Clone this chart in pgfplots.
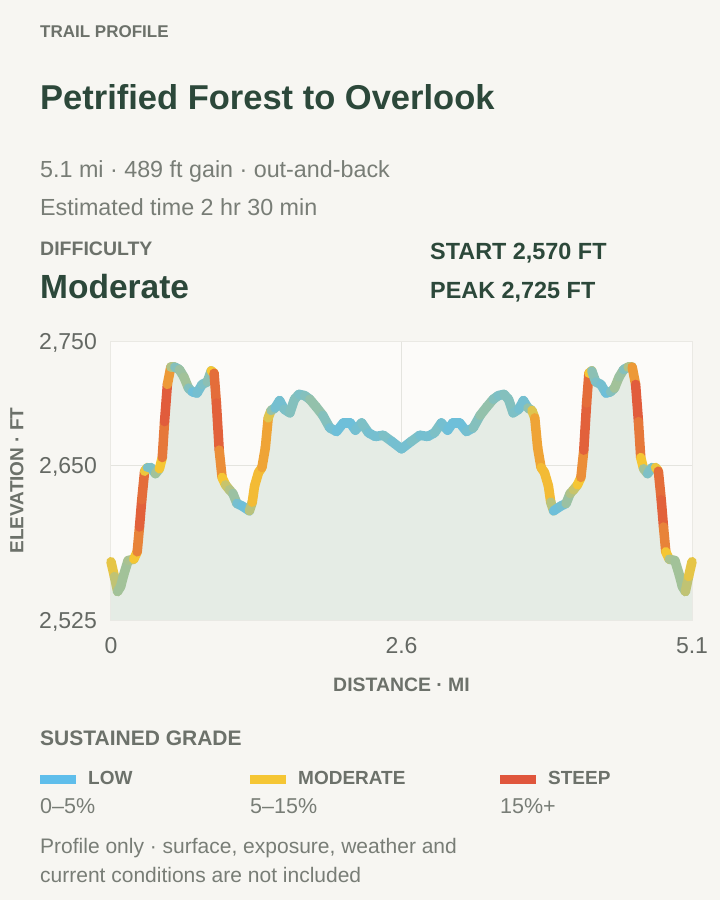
\documentclass[border=0pt]{standalone}
\usepackage{fontspec}
\setmainfont{Liberation Sans}
\usepackage{pgfplots}
\usepackage{pgfplotstable}
\pgfplotsset{compat=1.18}

\definecolor{pagebg}{RGB}{247,246,242}
\definecolor{plotbg}{RGB}{252,251,249}
\definecolor{framec}{RGB}{234,233,228}
\definecolor{gridc}{RGB}{228,228,223}
\definecolor{areac}{RGB}{229,236,229}
\definecolor{darkgreen}{RGB}{44,72,58}
\definecolor{headgray}{RGB}{108,113,106}
\definecolor{subgray}{RGB}{120,125,118}
\definecolor{tickgray}{RGB}{100,104,99}
\definecolor{lowc}{RGB}{95,190,235}
\definecolor{modc}{RGB}{245,198,52}
\definecolor{steepc}{RGB}{224,86,60}

% distance (mi), elevation (ft), sustained grade (%)
\pgfplotstableread{
x y g
0.000 2572 10
0.030 2560 8
0.058 2548 5
0.085 2552 4
0.110 2561 5
0.150 2573 4
0.200 2574 6
0.230 2580 14
0.250 2600 18
0.270 2622 20
0.295 2645 16
0.320 2648 3
0.350 2648 1
0.390 2643 3
0.425 2647 6
0.450 2656 14
0.470 2685 20
0.495 2715 19
0.525 2729 9
0.560 2729 2
0.600 2727 3
0.640 2721 5
0.680 2712 4
0.715 2709 1
0.755 2708 1
0.800 2715 2
0.845 2717 2
0.880 2726 4
0.905 2724 16
0.925 2700 20
0.950 2662 18
0.975 2640 12
1.005 2634 8
1.040 2630 6
1.070 2627 5
1.105 2619 3
1.150 2617 0
1.215 2613 2
1.240 2620 10
1.260 2633 12
1.295 2644 10
1.325 2648 12
1.355 2664 14
1.380 2688 12
1.405 2694 5
1.440 2696 2
1.480 2702 1
1.520 2695 2
1.570 2692 2
1.610 2703 3
1.650 2707 2
1.700 2706 2
1.745 2703 3
1.800 2697 4
1.860 2690 3
1.920 2680 2
1.980 2677 1
2.040 2684 1
2.100 2684 1
2.145 2678 1
2.200 2684 2
2.260 2676 2
2.320 2673 1
2.390 2674 2
2.465 2669 2
2.550 2663 1
2.635 2669 2
2.710 2674 2
2.780 2673 1
2.840 2676 2
2.900 2684 2
2.955 2678 1
3.000 2684 1
3.060 2684 1
3.120 2677 1
3.180 2680 2
3.240 2690 3
3.300 2697 4
3.355 2703 3
3.400 2706 2
3.450 2707 2
3.490 2703 3
3.530 2692 2
3.580 2695 2
3.620 2702 1
3.660 2696 2
3.695 2694 5
3.720 2688 12
3.745 2664 14
3.775 2648 12
3.805 2644 10
3.840 2633 12
3.860 2620 10
3.885 2613 2
3.950 2617 0
3.995 2619 3
4.030 2627 5
4.060 2630 6
4.095 2634 8
4.125 2640 12
4.150 2662 18
4.175 2700 20
4.195 2724 16
4.220 2726 4
4.255 2717 2
4.300 2715 2
4.345 2708 1
4.385 2709 1
4.420 2712 4
4.460 2721 5
4.500 2727 3
4.540 2729 2
4.575 2729 9
4.605 2715 19
4.630 2685 20
4.650 2656 14
4.675 2647 6
4.710 2643 3
4.750 2648 1
4.780 2648 3
4.805 2645 16
4.830 2622 20
4.850 2600 18
4.870 2580 14
4.900 2574 6
4.950 2573 4
4.990 2561 5
5.015 2552 4
5.042 2548 5
5.070 2560 8
5.100 2572 10
}\profile

\begin{document}
\begin{tikzpicture}
\fill[pagebg] (0,0) rectangle (720pt,-900pt);

% header
\begin{scope}[every node/.style={inner sep=0pt, anchor=base west}]
\node[font=\fontsize{17}{20}\selectfont\bfseries, text=headgray] at (40pt,-37pt) {TRAIL PROFILE};
\node[font=\fontsize{34.5}{40}\selectfont\bfseries, text=darkgreen] at (40pt,-109pt) {Petrified Forest to Overlook};
\node[font=\fontsize{23.3}{26}\selectfont, text=subgray] at (40pt,-177pt) {5.1 mi · 489 ft gain · out-and-back};
\node[font=\fontsize{23.3}{26}\selectfont, text=subgray] at (40pt,-215pt) {Estimated time 2 hr 30 min};
\node[font=\fontsize{19.5}{22}\selectfont\bfseries, text=headgray] at (40pt,-255pt) {DIFFICULTY};
\node[font=\fontsize{33.5}{38}\selectfont\bfseries, text=darkgreen] at (40pt,-298pt) {Moderate};
\node[font=\fontsize{23.4}{26}\selectfont\bfseries, text=darkgreen] at (430pt,-259pt) {START 2,570 FT};
\node[font=\fontsize{23.4}{26}\selectfont\bfseries, text=darkgreen] at (430pt,-298pt) {PEAK 2,725 FT};
\end{scope}

\begin{axis}[
  at={(111pt,-620pt)}, anchor=south west,
  scale only axis, width=581pt, height=279pt,
  xmin=0, xmax=5.1, ymin=2525, ymax=2750,
  clip=false,
  axis background/.style={fill=plotbg},
  axis line style={draw=framec, line width=1pt},
  grid=major,
  major grid style={draw=gridc, line width=1pt},
  major tick length=0pt,
  xtick={0,2.55,5.1}, xticklabels={0,2.6,5.1},
  ytick={2525,2650,2750},
  /pgf/number format/1000 sep={,},
  /pgf/number format/assume math mode=true,
  ticklabel style={font=\fontsize{23}{26}\selectfont, text=tickgray, inner sep=0pt},
  yticklabel style={anchor=east, xshift=-14pt, yshift=-1.5pt},
  xticklabel style={anchor=north, yshift=-17pt},
  xlabel={DISTANCE · MI},
  xlabel style={at={(axis description cs:0.5,-0.2545)}, anchor=base, inner sep=0pt,
    font=\fontsize{19.4}{22}\selectfont\bfseries, text=headgray},
  ylabel={ELEVATION · FT},
  ylabel style={at={(axis description cs:-0.162,0.5)}, anchor=center, inner sep=0pt,
    font=\fontsize{19}{22}\selectfont\bfseries, text=headgray},
  colormap={grade}{rgb255=(95,190,235) rgb255=(245,198,52) rgb255=(224,86,60)},
  point meta min=0, point meta max=20,
]
\addplot[draw=none, fill=areac] table[x=x, y=y] {\profile}
  -- (axis cs:5.1,2525) -- (axis cs:0,2525) -- cycle;
\addplot[mesh, point meta=\thisrow{g}, line width=9.5pt, line cap=round, line join=round]
  table[x=x, y=y] {\profile};
\end{axis}

% grade legend
\begin{scope}[every node/.style={inner sep=0pt, anchor=base west}]
\node[font=\fontsize{21}{24}\selectfont\bfseries, text=headgray] at (40pt,-745pt) {SUSTAINED GRADE};
\fill[lowc] (40pt,-775pt) rectangle (76pt,-784pt);
\fill[modc] (250pt,-775pt) rectangle (286pt,-784pt);
\fill[steepc] (500pt,-775pt) rectangle (536pt,-784pt);
\node[font=\fontsize{19}{22}\selectfont\bfseries, text=headgray] at (88pt,-784pt) {LOW};
\node[font=\fontsize{19}{22}\selectfont\bfseries, text=headgray] at (298pt,-784pt) {MODERATE};
\node[font=\fontsize{19}{22}\selectfont\bfseries, text=headgray] at (548pt,-784pt) {STEEP};
\node[font=\fontsize{21.5}{24}\selectfont, text=subgray] at (40pt,-813pt) {0–5\%};
\node[font=\fontsize{21.5}{24}\selectfont, text=subgray] at (250pt,-813pt) {5–15\%};
\node[font=\fontsize{21.5}{24}\selectfont, text=subgray] at (500pt,-813pt) {15\%+};
\node[font=\fontsize{21}{24}\selectfont, text=subgray] at (40pt,-853pt) {Profile only · surface, exposure, weather and};
\node[font=\fontsize{21}{24}\selectfont, text=subgray] at (40pt,-882pt) {current conditions are not included};
\end{scope}
\end{tikzpicture}
\end{document}
